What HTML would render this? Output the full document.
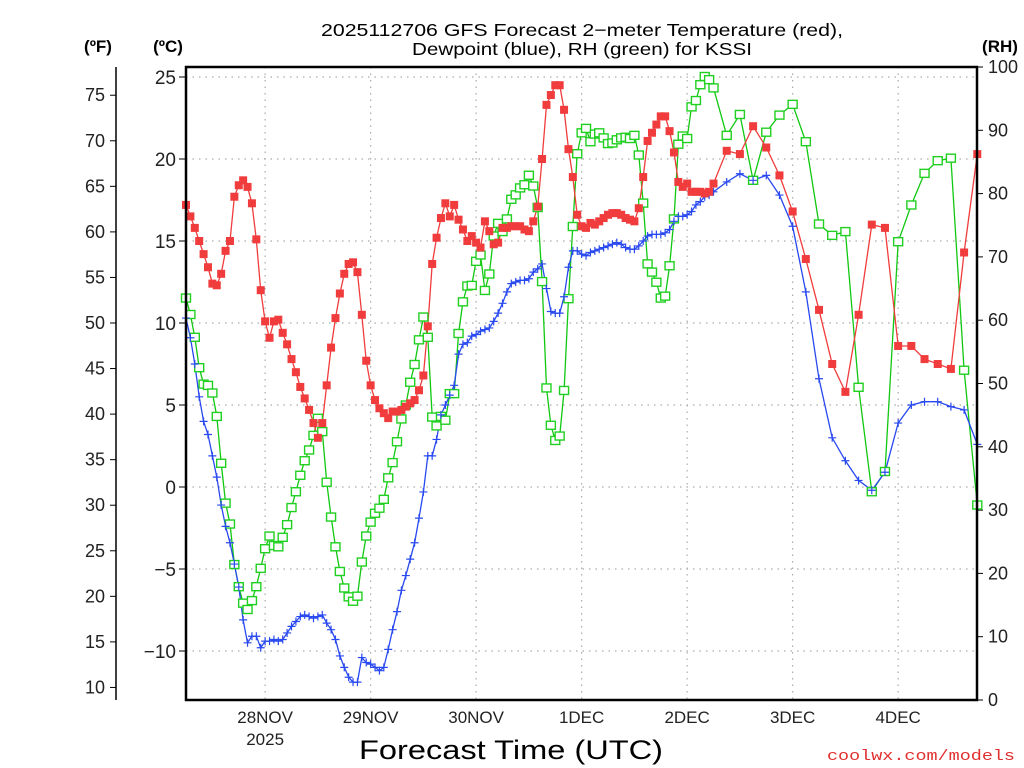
<!DOCTYPE html>
<html><head><meta charset="utf-8"><style>
html,body{margin:0;padding:0;background:#fff;}
svg{display:block;font-family:"Liberation Sans",sans-serif;}
</style></head><body>
<svg id="chart" width="1024" height="768" viewBox="0 0 1024 768" xmlns="http://www.w3.org/2000/svg">
<text x="582" y="36" font-size="17.5" text-anchor="middle" textLength="522" lengthAdjust="spacingAndGlyphs">2025112706 GFS Forecast 2−meter Temperature (red),</text>
<text x="582" y="55" font-size="17.5" text-anchor="middle" textLength="340" lengthAdjust="spacingAndGlyphs">Dewpoint (blue), RH (green) for KSSI</text>
<text x="98" y="52" font-size="17" font-weight="bold" text-anchor="middle">(ºF)</text>
<text x="168" y="52" font-size="17" font-weight="bold" text-anchor="middle">(ºC)</text>
<text x="1000" y="52" font-size="17" font-weight="bold" text-anchor="middle">(RH)</text>
<text x="511" y="759" font-size="27" text-anchor="middle" textLength="304" lengthAdjust="spacingAndGlyphs">Forecast Time (UTC)</text>
<text x="1015" y="760" font-size="15" fill="#e03030" text-anchor="end" font-family="Liberation Mono, monospace" textLength="188" lengthAdjust="spacingAndGlyphs">coolwx.com/models</text>
<g id="grid"></g><g id="axes"></g><g id="series"></g>
<rect x="186" y="67" width="791" height="633" fill="none" stroke="#000" stroke-width="2.5"/>
</svg>
<script>
// hours since 2025-11-27 06Z: hourly 0..120, then 3-hourly to 180
const hours = [];
for (let h = 0; h <= 120; h++) hours.push(h);
for (let h = 123; h <= 180; h += 3) hours.push(h);
const dayLabels = ["28NOV","29NOV","30NOV","1DEC","2DEC","3DEC","4DEC"];
const dayHours = [18,42,66,90,114,138,162];
const cTicks = [25,20,15,10,5,0,-5,-10];
const fTicks = [75,70,65,60,55,50,45,40,35,30,25,20,15,10];
const rhTicks = [100,90,80,70,60,50,40,30,20,10,0];
const tempC = [17.2,16.5,15.8,15.0,14.2,13.4,12.4,12.3,13.0,14.4,15.0,17.7,18.4,18.7,18.3,17.3,15.1,12.0,10.1,9.1,
10.1,10.2,9.4,8.7,7.8,7.0,6.1,5.4,4.7,3.9,3.0,3.9,6.2,8.5,10.3,11.8,13.0,13.6,13.7,13.1,
10.5,7.7,6.2,5.3,4.8,4.5,4.2,4.6,4.6,4.7,4.9,5.1,5.3,5.9,6.8,9.8,13.6,15.2,16.4,17.3,
16.5,17.2,16.3,15.7,15.0,15.3,14.9,14.6,16.2,15.6,14.8,14.9,15.8,15.8,15.9,15.9,15.9,15.7,15.6,16.2,
17.1,20.0,23.3,23.9,24.5,24.5,23.0,20.6,18.9,16.6,15.9,15.8,
16.1,16.0,16.2,16.4,16.6,16.7,16.7,16.6,16.4,16.3,16.2,17.0,18.9,21.1,21.6,22.1,22.6,22.6,21.7,20.4,18.6,18.3,18.5,18.0,18.0,18.0,17.9,18.0,18.5,
20.5,20.3,22.0,20.7,19.0,16.8,13.9,10.8,7.5,5.8,10.5,16.0,15.8,8.6,8.6,7.8,7.5,7.2,14.3,20.3];
const dewC = [10.3,9.1,7.5,5.5,4.0,3.2,1.9,0.6,-1.1,-2.4,-3.4,-4.7,-6.1,-8.1,-9.5,-9.1,-9.1,-9.8,-9.4,-9.4,
-9.3,-9.4,-9.3,-8.9,-8.5,-8.2,-7.9,-7.8,-7.9,-8.0,-7.9,-7.8,-8.3,-8.7,-9.3,-10.3,-11.0,-11.6,-11.9,-11.9,
-10.4,-10.7,-10.8,-11.0,-11.2,-11.0,-9.9,-8.7,-7.6,-6.3,-5.4,-4.4,-3.4,-1.9,-0.3,1.9,1.9,2.9,4.4,5.0,
5.6,6.2,8.1,8.7,8.8,9.2,9.3,9.5,9.6,9.7,10.1,10.6,11.2,11.9,12.4,12.5,12.6,12.6,12.7,13.1,
13.3,13.6,12.1,10.7,10.6,10.6,11.6,13.4,14.4,14.4,14.2,14.1,
14.3,14.4,14.5,14.6,14.7,14.8,14.9,14.8,14.6,14.5,14.5,14.7,15.0,15.3,15.4,15.4,15.4,15.5,15.7,16.2,16.5,16.5,16.6,16.8,17.2,17.4,17.7,17.8,18.0,
18.6,19.1,18.7,19.0,17.8,15.9,11.9,6.6,3.0,1.6,0.4,-0.2,0.9,3.9,5.0,5.2,5.2,4.9,4.7,2.6];
const rh = [63.5,60.9,57.3,52.5,49.9,49.7,48.5,44.8,37.4,31.1,27.8,21.4,17.9,15.3,14.3,15.7,17.9,20.8,23.9,25.9,
24.4,24.2,25.7,27.7,30.4,32.9,35.5,37.8,39.5,41.8,44.5,42.4,34.4,28.9,24.2,20.3,17.7,16.3,15.6,16.4,
21.8,25.9,28.1,29.5,30.3,31.7,35.1,37.5,40.8,44.4,46.6,50.2,53.0,56.9,60.5,57.3,44.7,43.3,44.8,44.2,
48.4,48.4,57.9,62.9,65.4,65.5,69.3,70.3,64.7,67.3,73.3,75.3,74.0,76.0,79.1,79.8,80.9,81.4,82.9,81.2,
77.8,66.1,49.3,43.4,41.0,41.7,48.9,63.4,74.8,86.3,89.6,90.3,
88.2,89.4,89.6,88.8,87.9,88.0,88.5,88.8,88.9,88.7,89.2,86.1,78.5,68.9,67.6,66.0,63.5,63.8,68.6,76.0,87.8,89.1,88.7,93.7,94.7,97.2,98.5,98.0,96.7,
89.2,92.5,82.1,89.7,92.4,94.1,88.2,75.2,73.4,74.0,49.4,32.9,36.1,72.4,78.2,83.2,85.2,85.6,52.1,30.8];

const NS = "http://www.w3.org/2000/svg";
const X0 = 186, X1 = 977, Y0 = 67, Y1 = 700;
const xOf = h => X0 + h * 4.396;
const yOfC = c => 487 - 16.4 * c;
const yOfF = f => yOfC((f - 32) / 1.8);
const yOfRH = r => Y1 - (Y1 - Y0) * r / 100;
function mk(tag, attrs, parent) {
  const e = document.createElementNS(NS, tag);
  for (const k in attrs) e.setAttribute(k, attrs[k]);
  parent.appendChild(e);
  return e;
}
const grid = document.getElementById('grid'), axes = document.getElementById('axes'), series = document.getElementById('series');
cTicks.forEach(c => {
  const y = yOfC(c);
  const g = mk('line', {x1: X0, x2: X1, y1: y, y2: y, stroke: '#aaa', 'stroke-width': 1.2, 'stroke-dasharray': '1.5 5'}, grid);
  
  
  const t = mk('line', {x1: X0 - 7, x2: X0, y1: y, y2: y, stroke: '#000', 'stroke-width': 1}, axes);
  
  
  const l = mk('text', {x: X0 - 10, y: y + 7, 'font-size': 19, 'text-anchor': 'end', fill: '#222'}, axes);
  l.textContent = c < 0 ? '−' + (-c) : String(c);
  
  
});
const fl = mk('line', {x1: 116, x2: 116, y1: Y0, y2: Y1, stroke: '#000', 'stroke-width': 1.5}, axes);


fTicks.forEach(f => {
  const y = yOfF(f);
  const t = mk('line', {x1: 110, x2: 116, y1: y, y2: y, stroke: '#000', 'stroke-width': 1}, axes);
  
  
  const l = mk('text', {x: 105, y: y + 6, 'font-size': 18, 'text-anchor': 'end', fill: '#222'}, axes);
  l.textContent = String(f);
  
  
});
rhTicks.forEach(r => {
  const y = yOfRH(r);
  const t = mk('line', {x1: X1, x2: X1 + 6, y1: y, y2: y, stroke: '#000', 'stroke-width': 1}, axes);
  
  
  const l = mk('text', {x: 988, y: y + 6, 'font-size': 18, fill: '#222'}, axes);
  l.textContent = String(r);
  
  
});
dayHours.forEach((h, i) => {
  const x = xOf(h);
  const g = mk('line', {x1: x, x2: x, y1: Y0, y2: Y1, stroke: '#aaa', 'stroke-width': 1.2, 'stroke-dasharray': '1.5 5'}, grid);
  
  
  const l = mk('text', {x: x, y: 723, 'font-size': 17, 'text-anchor': 'middle', fill: '#222'}, axes);
  l.textContent = dayLabels[i];
  
  
});
const yr = mk('text', {x: xOf(dayHours[0]), y: 745, 'font-size': 17, 'text-anchor': 'middle', fill: '#222'}, axes);
yr.textContent = '2025';



function line(vals, yf, color, name) {
  const pts = vals.map((v, i) => xOf(hours[i]).toFixed(1) + ',' + yf(v).toFixed(1)).join(' ');
  const p = mk('polyline', {points: pts, fill: 'none', stroke: color, 'stroke-width': 1.3}, series);
  
  
}
line(rh, yOfRH, '#10c810', 'rh-line');
line(dewC, yOfC, '#2848f0', 'dewpoint-line');
line(tempC, yOfC, '#f03c3c', 'temperature-line');
rh.forEach((v, i) => {
  const m = mk('rect', {x: xOf(hours[i]) - 4.5, y: yOfRH(v) - 4, width: 9, height: 8, fill: '#fff', stroke: '#20d020', 'stroke-width': 1.4}, series);
  
  
});
dewC.forEach((v, i) => {
  const x = xOf(hours[i]), y = yOfC(v);
  const m = mk('path', {d: `M${x-4} ${y}H${x+4}M${x} ${y-4}V${y+4}`, stroke: '#2848f0', 'stroke-width': 1.2, fill: 'none'}, series);
  
  
});
tempC.forEach((v, i) => {
  const m = mk('rect', {x: xOf(hours[i]) - 4, y: yOfC(v) - 4, width: 8, height: 8, fill: '#f03c3c'}, series);
  
  
});
</script>
</body></html>
